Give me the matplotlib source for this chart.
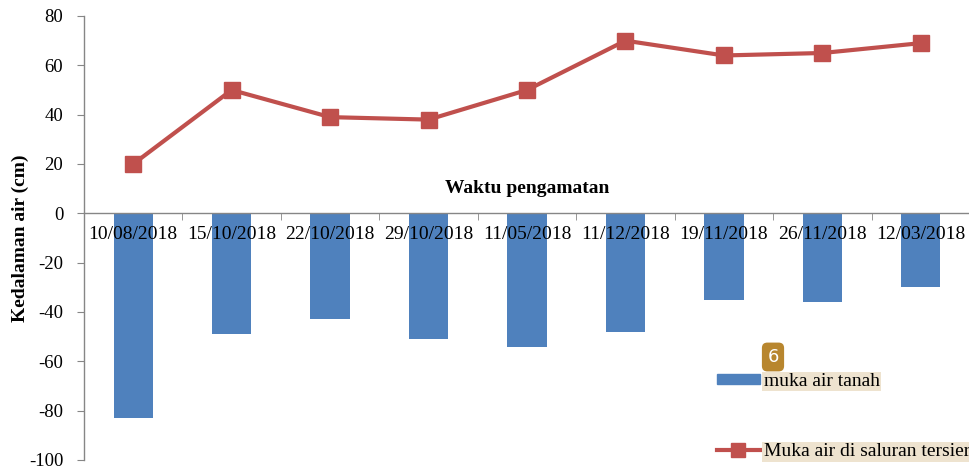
import matplotlib
matplotlib.use("Agg")
import matplotlib.pyplot as plt
from matplotlib.lines import Line2D
from matplotlib.patches import Patch
import numpy as np

dates = ["10/08/2018", "15/10/2018", "22/10/2018", "29/10/2018", "11/05/2018",
         "11/12/2018", "19/11/2018", "26/11/2018", "12/03/2018"]
muka_air_tanah = [-83, -49, -43, -51, -54, -48, -35, -36, -30]
muka_air_tersier = [20, 50, 39, 38, 50, 70, 64, 65, 69]
yticks = [-100, -80, -60, -40, -20, 0, 20, 40, 60, 80]

plt.rcParams['font.family'] = ['Liberation Serif', 'DejaVu Serif']

fig = plt.figure(figsize=(9.7, 4.7), dpi=100)
ax = fig.add_axes([84/970, 1-460/470, 1-84/970, (460-16)/470])

x = np.arange(len(dates))
bar_c = '#4F81BD'
line_c = '#C0504D'
ax.bar(x, muka_air_tanah, width=0.4, color=bar_c, zorder=1)
ax.plot(x, muka_air_tersier, color=line_c, lw=3, marker='s', markersize=12, zorder=3)

ax.set_xlim(-0.5, len(dates) - 0.5)
ax.set_ylim(-100, 80)
ax.set_yticks(yticks)
ax.set_yticklabels([str(v) for v in yticks], fontsize=13.5)

axc = '#868686'
for s in ['top', 'right']:
    ax.spines[s].set_visible(False)
ax.spines['bottom'].set_position(('data', 0))
ax.spines['bottom'].set_color(axc)
ax.spines['left'].set_color(axc)
ax.spines['bottom'].set_linewidth(1)
ax.spines['left'].set_linewidth(1)

ax.set_xticks(x)
ax.set_xticklabels(dates, fontsize=14)
ax.set_xticks(np.arange(-0.5, len(dates), 1), minor=True)
ax.tick_params(axis='x', which='major', length=0, pad=9)
ax.tick_params(axis='x', which='minor', length=5, color=axc, direction='out')
ax.tick_params(axis='y', length=5, color=axc, pad=10)

ax.text(0.5, 10, "Waktu pengamatan", transform=ax.get_yaxis_transform(),
        ha='center', va='center', fontsize=14, fontweight='bold')
ax.set_ylabel("Kedalaman air (cm)", fontsize=14, fontweight='bold', labelpad=0)

handles = [Patch(facecolor=bar_c, edgecolor=bar_c),
           Line2D([0], [0], color=line_c, lw=3, marker='s', markersize=10)]
labels = ["muka air tanah", "Muka air di saluran tersier"]
leg = ax.legend(handles, labels, loc='upper left', bbox_to_anchor=((717-84)/886, (460-373)/444),
                frameon=False, fontsize=14, handlelength=2.2, handleheight=0.45,
                handletextpad=0.2, labelspacing=2.75, borderpad=0, borderaxespad=0)
for t in leg.get_texts():
    t.set_bbox(dict(facecolor='#EEE3CF', edgecolor='none', pad=1))

fig.text(773/970, 1-357/470, "6", ha='center', va='center', fontsize=13, color='white',
         family='DejaVu Sans',
         bbox=dict(boxstyle='round,pad=0.3', facecolor='#B8862E', edgecolor='none'))

fig.savefig("out.png", dpi=100)
